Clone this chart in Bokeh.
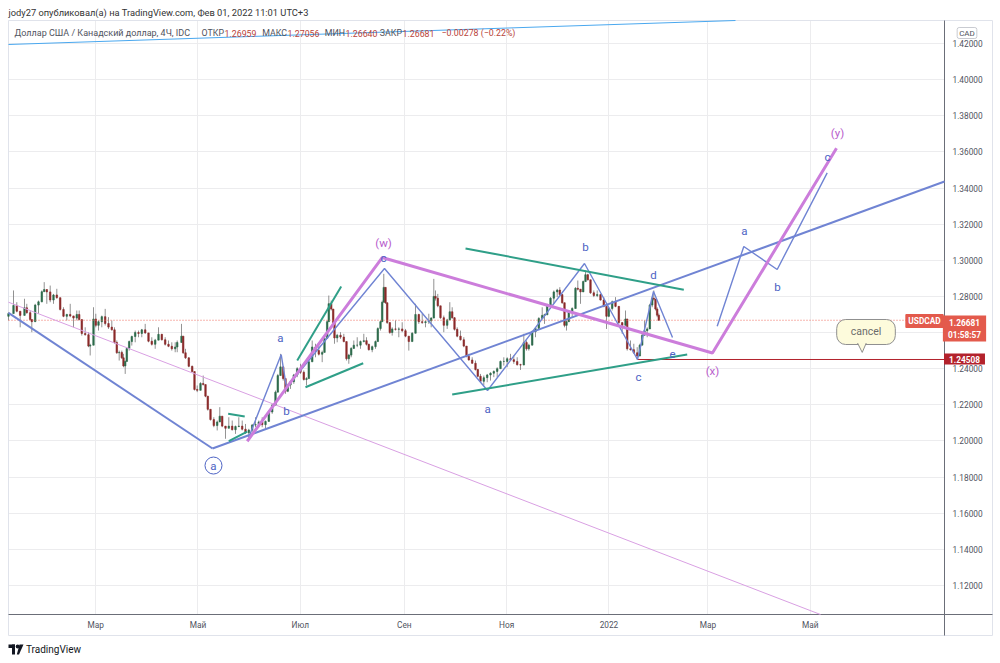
from bokeh.plotting import figure
from bokeh.models import (ColumnDataSource, FixedTicker, Label, Range1d, BoxAnnotation,
                          NumeralTickFormatter, Grid)
from bokeh.embed import file_html
from bokeh.resources import INLINE
from bokeh.core.properties import value

FONT = "Roboto"
W, H = 1000, 663

# ---------------- data (x = days since 2021-01-01, y = USDCAD price) ----------------
bar_day = [
    7.03, 10.02, 11.98, 14.01, 16.57, 17.94, 19.97, 20.93, 22.95, 24.92,
    26.89, 28.32, 29.87, 31.89, 33.86, 35.83, 37.86, 39.82, 41.79, 43.82,
    45.79, 47.75, 49.18, 50.73, 52.76, 54.73, 55.74, 57.71, 59.08, 60.69,
    62.66, 64.68, 66.65, 68.62, 70.23, 71.60, 73.03, 74.58, 75.59, 76.61,
    77.56, 78.99, 80.54, 82.57, 84.54, 86.50, 88.53, 90.50, 92.46, 94.49,
    96.46, 98.43, 100.45, 102.42, 104.39, 106.41, 107.61, 110.17, 111.18, 112.56,
    114.52, 116.55, 117.92, 119.53, 121.50, 123.11, 124.48, 125.85, 127.46, 129.43,
    131.45, 133.00, 134.44, 136.40, 138.37, 140.40, 142.36, 144.33, 146.36, 148.32,
    150.29, 152.32, 154.29, 156.25, 158.28, 160.25, 162.22, 164.24, 166.21, 167.58,
    169.19, 170.80, 172.17, 173.54, 175.15, 177.12, 179.15, 181.11, 183.08, 184.69,
    186.06, 188.09, 190.06, 192.02, 194.05, 195.42, 197.03, 197.98, 199.41, 200.61,
    201.38, 202.99, 204.96, 206.93, 208.53, 209.91, 211.34, 212.89, 214.92, 216.88,
    218.85, 220.46, 221.83, 223.86, 225.83, 227.20, 228.81, 229.82, 230.77, 231.79,
    232.80, 234.35, 235.78, 237.75, 239.72, 241.74, 243.71, 245.68, 247.70, 249.67,
    251.64, 253.67, 255.63, 257.60, 259.03, 260.58, 261.59, 262.96, 264.57, 266.54,
    268.57, 270.12, 271.55, 272.92, 274.53, 276.50, 278.47, 280.08, 281.45, 283.47,
    285.44, 286.81, 288.42, 290.39, 292.42, 294.39, 296.35, 298.38, 300.35, 302.32,
    304.34, 306.31, 308.27, 310.30, 312.27, 314.24, 315.85, 317.22, 319.25, 321.21,
    323.18, 325.21, 326.58, 328.19, 330.16, 332.13, 334.15, 335.70, 337.13, 338.50,
    339.69, 341.06, 343.09, 345.06, 346.43, 348.04, 349.65, 351.02, 352.39, 354.00,
    355.97, 358.00, 359.97, 361.93, 363.54, 364.91, 366.94, 368.91, 370.88, 372.90,
    374.87, 375.88, 377.85, 379.82, 381.84, 383.39, 384.82, 386.19, 387.80, 389.35,
    390.78, 391.73, 392.75, 393.75, 394.72,
]
bar_high = [
    1.2712, 1.2833, 1.2768, 1.2704, 1.2787, 1.2759, 1.2722, 1.2667, 1.2759, 1.2777,
    1.2833, 1.2879, 1.2833, 1.2860, 1.2814, 1.2842, 1.2777, 1.2740, 1.2704, 1.2759,
    1.2685, 1.2722, 1.2722, 1.2648, 1.2629, 1.2602, 1.2538, 1.2740, 1.2704, 1.2667,
    1.2694, 1.2731, 1.2685, 1.2667, 1.2629, 1.2556, 1.2500, 1.2500, 1.2482, 1.2445,
    1.2519, 1.2556, 1.2583, 1.2611, 1.2611, 1.2620, 1.2648, 1.2593, 1.2574, 1.2565,
    1.2629, 1.2593, 1.2574, 1.2556, 1.2546, 1.2546, 1.2556, 1.2648, 1.2538, 1.2510,
    1.2463, 1.2417, 1.2353, 1.2307, 1.2325, 1.2362, 1.2297, 1.2242, 1.2168, 1.2131,
    1.2113, 1.2187, 1.2131, 1.2076, 1.2131, 1.2113, 1.2085, 1.2131, 1.2113, 1.2094,
    1.2067, 1.2094, 1.2131, 1.2113, 1.2131, 1.2113, 1.2168, 1.2205, 1.2279, 1.2371,
    1.2482, 1.2408, 1.2334, 1.2316, 1.2334, 1.2371, 1.2408, 1.2427, 1.2390, 1.2353,
    1.2445, 1.2556, 1.2538, 1.2538, 1.2500, 1.2574, 1.2667, 1.2805, 1.2777, 1.2722,
    1.2648, 1.2593, 1.2602, 1.2593, 1.2519, 1.2482, 1.2519, 1.2556, 1.2574, 1.2556,
    1.2593, 1.2574, 1.2538, 1.2528, 1.2556, 1.2629, 1.2667, 1.2777, 1.2925, 1.2833,
    1.2722, 1.2648, 1.2629, 1.2667, 1.2629, 1.2657, 1.2620, 1.2556, 1.2602, 1.2759,
    1.2704, 1.2704, 1.2667, 1.2704, 1.2685, 1.2897, 1.2833, 1.2814, 1.2740, 1.2694,
    1.2676, 1.2768, 1.2740, 1.2685, 1.2629, 1.2611, 1.2574, 1.2519, 1.2482, 1.2463,
    1.2445, 1.2399, 1.2371, 1.2362, 1.2371, 1.2380, 1.2390, 1.2408, 1.2445, 1.2463,
    1.2463, 1.2482, 1.2473, 1.2463, 1.2427, 1.2593, 1.2556, 1.2538, 1.2611, 1.2629,
    1.2685, 1.2740, 1.2704, 1.2759, 1.2796, 1.2833, 1.2842, 1.2851, 1.2814, 1.2704,
    1.2667, 1.2722, 1.2740, 1.2851, 1.2888, 1.2833, 1.2888, 1.2943, 1.2925, 1.2888,
    1.2833, 1.2833, 1.2814, 1.2796, 1.2722, 1.2740, 1.2777, 1.2796, 1.2704, 1.2648,
    1.2722, 1.2556, 1.2556, 1.2538, 1.2519, 1.2538, 1.2593, 1.2667, 1.2629, 1.2759,
    1.2796, 1.2833, 1.2777, 1.2740, 1.27056,
]
bar_low = [
    1.2667, 1.2740, 1.2712, 1.2629, 1.2731, 1.2704, 1.2667, 1.2602, 1.2704, 1.2704,
    1.2768, 1.2833, 1.2759, 1.2768, 1.2759, 1.2787, 1.2722, 1.2685, 1.2667, 1.2685,
    1.2629, 1.2667, 1.2667, 1.2583, 1.2583, 1.2519, 1.2473, 1.2667, 1.2629, 1.2611,
    1.2629, 1.2639, 1.2620, 1.2611, 1.2538, 1.2482, 1.2445, 1.2454, 1.2408, 1.2371,
    1.2463, 1.2500, 1.2528, 1.2546, 1.2574, 1.2574, 1.2593, 1.2546, 1.2528, 1.2510,
    1.2583, 1.2556, 1.2528, 1.2519, 1.2500, 1.2491, 1.2491, 1.2574, 1.2482, 1.2454,
    1.2408, 1.2380, 1.2279, 1.2270, 1.2288, 1.2307, 1.2242, 1.2168, 1.2113, 1.2076,
    1.2058, 1.2131, 1.2076, 1.2012, 1.2076, 1.2058, 1.2039, 1.2076, 1.2058, 1.2039,
    1.2012, 1.2039, 1.2076, 1.2076, 1.2076, 1.2067, 1.2113, 1.2150, 1.2205, 1.2297,
    1.2390, 1.2334, 1.2261, 1.2270, 1.2288, 1.2316, 1.2353, 1.2371, 1.2334, 1.2307,
    1.2371, 1.2463, 1.2463, 1.2473, 1.2436, 1.2519, 1.2593, 1.2740, 1.2722, 1.2648,
    1.2538, 1.2546, 1.2565, 1.2546, 1.2445, 1.2427, 1.2463, 1.2519, 1.2519, 1.2510,
    1.2546, 1.2528, 1.2500, 1.2491, 1.2510, 1.2574, 1.2611, 1.2667, 1.2814, 1.2759,
    1.2648, 1.2593, 1.2583, 1.2611, 1.2574, 1.2602, 1.2574, 1.2500, 1.2556, 1.2667,
    1.2648, 1.2648, 1.2629, 1.2648, 1.2629, 1.2759, 1.2777, 1.2740, 1.2676, 1.2602,
    1.2620, 1.2704, 1.2676, 1.2611, 1.2574, 1.2556, 1.2519, 1.2463, 1.2445, 1.2427,
    1.2390, 1.2353, 1.2325, 1.2307, 1.2325, 1.2334, 1.2353, 1.2353, 1.2399, 1.2417,
    1.2408, 1.2445, 1.2427, 1.2417, 1.2393, 1.2538, 1.2500, 1.2500, 1.2574, 1.2574,
    1.2629, 1.2685, 1.2648, 1.2704, 1.2740, 1.2759, 1.2796, 1.2805, 1.2759, 1.2629,
    1.2611, 1.2667, 1.2685, 1.2777, 1.2833, 1.2759, 1.2833, 1.2906, 1.2888, 1.2814,
    1.2796, 1.2796, 1.2777, 1.2740, 1.2620, 1.2685, 1.2722, 1.2740, 1.2648, 1.2593,
    1.2667, 1.2500, 1.2500, 1.2482, 1.24508, 1.2482, 1.2538, 1.2593, 1.2574, 1.2685,
    1.2740, 1.2777, 1.2722, 1.2685, 1.26640,
]
bar_close = [
    1.2705, 1.2750, 1.2718, 1.2695, 1.2737, 1.2710, 1.2672, 1.2660, 1.2752, 1.2770,
    1.2826, 1.2838, 1.2825, 1.2780, 1.2808, 1.2793, 1.2728, 1.2690, 1.2700, 1.2692,
    1.2680, 1.2700, 1.2672, 1.2595, 1.2588, 1.2525, 1.2530, 1.2675, 1.2640, 1.2660,
    1.2688, 1.2650, 1.2630, 1.2615, 1.2545, 1.2488, 1.2490, 1.2460, 1.2415, 1.2440,
    1.2512, 1.2550, 1.2578, 1.2600, 1.2595, 1.2615, 1.2598, 1.2552, 1.2535, 1.2558,
    1.2590, 1.2560, 1.2535, 1.2524, 1.2510, 1.2520, 1.2545, 1.2580, 1.2488, 1.2460,
    1.2413, 1.2384, 1.2285, 1.2280, 1.2318, 1.2312, 1.2248, 1.2175, 1.2118, 1.2085,
    1.2105, 1.2137, 1.2082, 1.2070, 1.2082, 1.2062, 1.2080, 1.2082, 1.2065, 1.2045,
    1.2060, 1.2088, 1.2090, 1.2105, 1.2090, 1.2108, 1.2160, 1.2198, 1.2270, 1.2362,
    1.2410, 1.2345, 1.2275, 1.2310, 1.2328, 1.2365, 1.2400, 1.2380, 1.2340, 1.2345,
    1.2438, 1.2520, 1.2500, 1.2480, 1.2490, 1.2568, 1.2660, 1.2760, 1.2730, 1.2655,
    1.2570, 1.2585, 1.2575, 1.2550, 1.2455, 1.2475, 1.2512, 1.2530, 1.2530, 1.2550,
    1.2555, 1.2535, 1.2505, 1.2522, 1.2550, 1.2622, 1.2660, 1.2768, 1.2850, 1.2765,
    1.2655, 1.2600, 1.2620, 1.2618, 1.2620, 1.2610, 1.2580, 1.2550, 1.2596, 1.2700,
    1.2660, 1.2655, 1.2660, 1.2665, 1.2680, 1.2800, 1.2790, 1.2748, 1.2682, 1.2640,
    1.2670, 1.2715, 1.2682, 1.2618, 1.2580, 1.2560, 1.2525, 1.2468, 1.2448, 1.2430,
    1.2395, 1.2358, 1.2330, 1.2350, 1.2365, 1.2375, 1.2385, 1.2400, 1.2440, 1.2440,
    1.2455, 1.2450, 1.2440, 1.2422, 1.2420, 1.2545, 1.2510, 1.2530, 1.2605, 1.2622,
    1.2678, 1.2695, 1.2698, 1.2752, 1.2790, 1.2825, 1.2835, 1.2810, 1.2765, 1.2640,
    1.2660, 1.2715, 1.2733, 1.2845, 1.2840, 1.2825, 1.2882, 1.2920, 1.2892, 1.2820,
    1.2805, 1.2810, 1.2780, 1.2745, 1.2690, 1.2733, 1.2770, 1.2745, 1.2655, 1.2640,
    1.2675, 1.2510, 1.2505, 1.2488, 1.2470, 1.2530, 1.2585, 1.2610, 1.2620, 1.2752,
    1.2790, 1.2785, 1.2730, 1.26959, 1.26681,
]
first_open = 1.2690

month_days = [59, 120, 181, 243, 304, 365, 424, 485]
month_labels = ["Мар", "Май", "Июл", "Сен", "Ноя", "2022", "Мар", "Май"]
price_ticks = [1.12, 1.14, 1.16, 1.18, 1.20, 1.22, 1.24, 1.26, 1.28, 1.30,
               1.32, 1.34, 1.36, 1.38, 1.40, 1.42]

last_open, last_high, last_low, last_close = 1.26959, 1.27056, 1.26640, 1.26681
change_abs, change_pct = -0.00278, -0.22
countdown = "01:58:57"
level_price = 1.24508
level_start_day = 382.02

# trend / wave drawings (anchor points, days / prices)
light_blue_day = [7.03, 440.44]
light_blue_price = [1.41945, 1.43273]
pink_thin_day = [7.03, 491.1]
pink_thin_price = [1.27679, 1.10392]
wave_a_day = [7.03, 128.65]
wave_a_price = [1.27093, 1.19579]
channel_day = [128.65, 565.05]
channel_price = [1.19579, 1.34360]
sub_wave_day = [150.29, 169.61, 172.77, 231.19, 292.60, 350.42, 382.02, 391.56, 402.89]
sub_wave_price = [1.2020, 1.24782, 1.22956, 1.29544, 1.22790, 1.29821, 1.24508, 1.28271, 1.25724]
wxy_day = [149.34, 229.82, 426.71, 500.66]
wxy_price = [1.19983, 1.30153, 1.24866, 1.36203]
future_day = [429.53, 445.39, 465.30, 495.11]
future_price = [1.26349, 1.30761, 1.29488, 1.34841]
teal_day0 = [137.98, 138.37, 179.15, 184.09, 279.49, 271.55]
teal_price0 = [1.21500, 1.19983, 1.24450, 1.22972, 1.30657, 1.22568]
teal_day1 = [147.87, 149.34, 205.38, 218.49, 409.62, 411.65]
teal_price1 = [1.21350, 1.20520, 1.28547, 1.24300, 1.28364, 1.24783]

blue_label_text = ["c", "a", "b", "a", "b", "c", "d", "e", "a", "b", "c"]
blue_label_day = [230.60, 169.19, 172.77, 292.60, 351.02, 382.62, 391.56, 402.89, 445.81, 465.48, 495.29]
blue_label_price = [1.30150, 1.25722, 1.21681, 1.21793, 1.30761, 1.23565, 1.29212, 1.24838, 1.31647, 1.28546, 1.35744]
pink_label_text = ["(w)", "(x)", "(y)"]
pink_label_day = [230.60, 426.71, 501.25]
pink_label_price = [1.30983, 1.23897, 1.37072]
circle_label_day, circle_label_price = 129.24, 1.18638
cancel_day, cancel_price = 518.25, 1.26030
cancel_tail_day = [513.2, 516.0, 518.4]
cancel_tail_price = [1.2542, 1.2490, 1.2542]

# ---------------- geometry of the picture ----------------
def day_at(px):          # horizontal pixel -> day
    return (px + 3.8) / 1.6774


def price_at(py):        # vertical pixel -> price
    return 1.42 - (py - 43) * 0.02 / 36.13


PANE_L, PANE_R, PANE_T, PANE_B = day_at(8), day_at(944), price_at(20), price_at(614)

# ---------------- styling ----------------
UP, DOWN = "#2b6a4a", "#8b2a2a"
BLUE = "#7084d3"
BLUE_TXT = "#4d63c4"
PINK = "#cc7ddb"
PINK_TXT = "#b85dcc"
TEAL = "#2f9f88"
RED = "#e35a4c"
DARK_RED = "#b3222c"
AXIS_C = "#6b6e78"
BORDER_C = "#e0e3eb"

p = figure(width=W, height=H, title=None,
           x_range=Range1d(day_at(0), day_at(W)), y_range=Range1d(price_at(H), price_at(0)),
           y_axis_location="right", output_backend="svg", toolbar_location=None,
           min_border_left=0, min_border_right=0, min_border_top=0, min_border_bottom=0,
           background_fill_color="white", border_fill_color="white",
           outline_line_color=None)

p.xaxis.ticker = FixedTicker(ticks=month_days)
p.xaxis.major_label_overrides = {d: l for d, l in zip(month_days, month_labels)}
p.yaxis.ticker = FixedTicker(ticks=price_ticks)
p.yaxis.formatter = NumeralTickFormatter(format="0.00000")
for ax in (p.xaxis[0], p.yaxis[0]):
    ax.major_tick_line_color = None
    ax.minor_tick_line_color = None
    ax.major_tick_out = 0
    ax.major_tick_in = 0
    ax.major_label_text_font = FONT
    ax.major_label_text_font_size = "8.3px"
    ax.major_label_text_color = "#50535e"
    ax.axis_line_color = None
p.xaxis.major_label_standoff = -44   # labels drawn just under the time-axis line
p.yaxis.major_label_standoff = -48   # labels drawn just right of the price-axis line

p.xgrid.ticker = FixedTicker(ticks=month_days)
p.ygrid.ticker = FixedTicker(ticks=price_ticks)
for g in (p.xgrid[0], p.ygrid[0]):
    g.grid_line_color = "#ececee"
if "cross_bounds" in Grid.properties():
    p.xgrid[0].cross_bounds = (PANE_B, PANE_T)
    p.ygrid[0].cross_bounds = (PANE_L, PANE_R)
# white masks outside the chart pane (behind everything else)
for kw in (dict(left=PANE_R), dict(right=PANE_L), dict(top=PANE_B), dict(bottom=PANE_T)):
    p.add_layout(BoxAnnotation(fill_color="white", fill_alpha=1, line_color=None,
                               level="underlay", **kw))

# frame lines
p.line([day_at(8), day_at(992), day_at(992), day_at(8), day_at(8)],
       [price_at(20), price_at(20), price_at(635), price_at(635), price_at(20)],
       line_color=BORDER_C, line_width=1)
p.line([PANE_R, PANE_R], [price_at(20), price_at(635)], line_color=AXIS_C, line_width=1)
p.line([PANE_L, day_at(992)], [PANE_B, PANE_B], line_color=AXIS_C, line_width=1)

# candles
opens = [first_open] + bar_close[:-1]
highs = [max(h, o, c) for h, o, c in zip(bar_high, opens, bar_close)]
lows = [min(l, o, c) for l, o, c in zip(bar_low, opens, bar_close)]
colors = [UP if c >= o else DOWN for o, c in zip(opens, bar_close)]
csrc = ColumnDataSource(dict(day=bar_day, high=highs, low=lows,
                             top=[max(o, c) for o, c in zip(opens, bar_close)],
                             bottom=[min(o, c) for o, c in zip(opens, bar_close)],
                             color=colors))
p.segment(x0="day", y0="low", x1="day", y1="high", line_color="#6e6e6e", line_width=1,
          line_alpha=0.75, source=csrc)
p.vbar(x="day", width=0.9, top="top", bottom="bottom", fill_color="color",
       line_color="color", line_width=0.6, source=csrc)

# close price dotted line and 1.24508 level
p.line([PANE_L, PANE_R], [last_close, last_close], line_color="#ef6a5c",
       line_dash="1 2", line_width=1)
p.line([level_start_day, PANE_R], [level_price, level_price], line_color=DARK_RED, line_width=1)

# trend lines
p.line(light_blue_day, light_blue_price, line_color="#4aa8ef", line_width=1)
p.line(pink_thin_day, pink_thin_price, line_color="#d9a0e3", line_width=1)
p.line(wave_a_day, wave_a_price, line_color=BLUE, line_width=2)
p.line(channel_day, channel_price, line_color=BLUE, line_width=2)
p.line(sub_wave_day, sub_wave_price, line_color=BLUE, line_width=1.4)
p.line(future_day, future_price, line_color=BLUE, line_width=1.4)
p.line(wxy_day, wxy_price, line_color=PINK, line_width=3)
p.segment(x0=teal_day0, y0=teal_price0, x1=teal_day1, y1=teal_price1,
          line_color=TEAL, line_width=2)

# wave labels
p.text(x=blue_label_day, y=blue_label_price, text=blue_label_text,
       text_font=value(FONT), text_font_size="11.5px", text_color=BLUE_TXT,
       text_align="center", text_baseline="middle")
p.text(x=pink_label_day, y=pink_label_price, text=pink_label_text,
       text_font=value(FONT), text_font_size="11.5px", text_color=PINK_TXT,
       text_align="center", text_baseline="middle")
p.scatter(x=[circle_label_day], y=[circle_label_price], marker="circle", size=17,
          fill_color="white", line_color=BLUE_TXT, line_width=1)
p.text(x=[circle_label_day], y=[circle_label_price], text=["a"],
       text_font=value(FONT), text_font_size="11.5px", text_color=BLUE_TXT,
       text_align="center", text_baseline="middle")

# cancel callout
p.add_layout(Label(x=cancel_day, y=cancel_price, text="cancel", text_font=FONT,
                   text_font_size="10.5px", text_color="#6b6b6b", text_align="center",
                   text_baseline="middle", background_fill_color="#fdfbdc",
                   border_line_color="#8f8f8f", border_line_width=1,
                   padding=(14, 6), border_radius=9))
tail = p.patch(cancel_tail_day, cancel_tail_price, fill_color="#fdfbdc", line_color=None)
tail.level = "overlay"
tl = p.line(cancel_tail_day, cancel_tail_price, line_color="#8f8f8f", line_width=1)
tl.level = "overlay"


def slabel(px, py, text, size="8.8px", color="#50535e", align="left", baseline="middle",
           style="normal", bg=None, pad=0, border=None, radius=0):
    lab = Label(x=px, y=H - py, x_units="screen", y_units="screen", text=text,
                text_font=FONT, text_font_size=size, text_color=color, text_align=align,
                text_baseline=baseline, text_font_style=style, padding=pad,
                border_radius=radius)
    if bg is not None:
        lab.background_fill_color = bg
    if border is not None:
        lab.border_line_color = border
    p.add_layout(lab)


# header lines
slabel(8, 11.7, "jody27 опубликовал(а) на TradingView.com, Фев 01, 2022 11:01 UTC+3",
       size="9.3px", color="#333333")
HY = 32.7
VAL = "#b8433a"
slabel(14, HY, "Доллар США / Канадский доллар, 4Ч, IDC", size="9px")
for name, val, vx in (("ОТКР", last_open, 224), ("МАКС", last_high, 287),
                      ("МИН", last_low, 345), ("ЗАКР", last_close, 402)):
    slabel(vx - 0.5, HY, name, align="right")
    slabel(vx, HY, f"{val:.5f}", color=VAL)
slabel(441, HY, f"\u2212{abs(change_abs):.5f} (\u2212{abs(change_pct):.2f}%)", color=VAL)

# currency badge
slabel(966.5, 32.5, "CAD", size="8px", align="center", bg="white", pad=(2, 1),
       border="#c9cbd1", radius=2)

# price badges
slabel(924, 320.5, "USDCAD", size="8.3px", color="white", align="center", bg=RED,
       pad=(3, 2), radius=1, style="bold")
slabel(964, 315, f"{last_close:.5f}\n{countdown}", size="8.3px", color="white",
       align="center", baseline="top", bg=RED, pad=(5, 2), style="bold")
slabel(964, 358.5, f"{level_price:.5f}", size="8.3px", color="white", align="center",
       bg=DARK_RED, pad=(5, 2), style="bold")

# footer logo mark and name
p.quad(left=[day_at(8), day_at(11.5)], right=[day_at(14.5), day_at(14.5)],
       top=[price_at(644), price_at(644)], bottom=[price_at(647.5), price_at(654)],
       fill_color="#131722", line_color=None)
p.scatter(x=[day_at(17.2)], y=[price_at(646)], marker="circle", size=4,
          fill_color="#131722", line_color=None)
p.patch([day_at(19), day_at(23), day_at(18.5), day_at(16.3)],
        [price_at(644), price_at(644), price_at(654), price_at(654)],
        fill_color="#131722", line_color=None)
slabel(25.5, 649, "TradingView", size="10px", color="#131722")

open("out.html", "w").write(file_html(p, INLINE))
